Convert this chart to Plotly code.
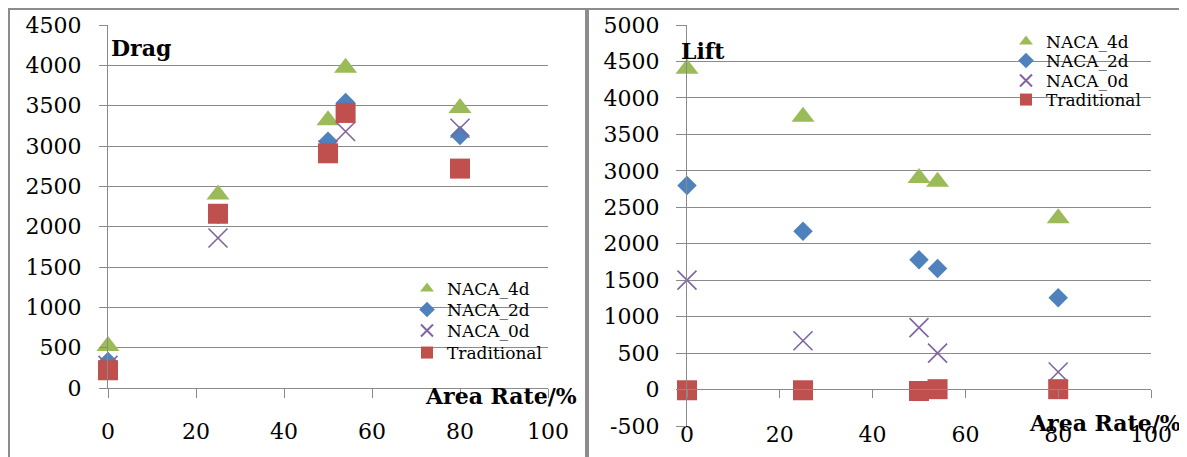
import plotly.graph_objects as go

# The page body has an 8px default margin, so the figure is offset by 8px.
SCREEN_W, SCREEN_H = 1187, 457
OFF = 8
W, H = SCREEN_W - OFF, SCREEN_H - OFF
SERIF = "DejaVu Serif"

# ---------------- data ----------------
area_rate = [0, 25, 50, 54, 80]
series_names = ["NACA_4d", "NACA_2d", "NACA_0d", "Traditional"]

drag_naca4d = [520, 2400, 3320, 3970, 3470]
drag_naca2d = [330, 2150, 3060, 3540, 3130]
drag_naca0d = [280, 1860, 2950, 3180, 3220]
drag_trad = [220, 2160, 2910, 3410, 2720]

lift_naca4d = [4400, 3740, 2900, 2850, 2350]
lift_naca2d = [2800, 2170, 1780, 1660, 1260]
lift_naca0d = [1500, 670, 850, 500, 240]
lift_trad = [-10, -10, -20, 5, 5]

x_ticks = [0, 20, 40, 60, 80, 100]
drag_ticks = list(range(0, 4501, 500))
lift_ticks = list(range(-500, 5001, 500))
lift_tick_labels = [str(v) for v in lift_ticks]  # plain hyphen for "-500"

# ---------------- styles ----------------
colors = {"NACA_4d": "#9BBB59", "NACA_2d": "#4F81BD",
          "NACA_0d": "#8064A2", "Traditional": "#C0504D"}
symbols = {"NACA_4d": "triangle-up", "NACA_2d": "diamond",
           "NACA_0d": "x-thin", "Traditional": "square"}
sizes = {"NACA_4d": 20, "NACA_2d": 15, "NACA_0d": 19, "Traditional": 20}
GRID = "#8a8a8a"


def fx(px):
    return (px - OFF) / W


def fy(py):
    return 1 - (py - OFF) / H


fig = go.Figure()

drag_series = [drag_naca4d, drag_naca2d, drag_naca0d, drag_trad]
lift_series = [lift_naca4d, lift_naca2d, lift_naca0d, lift_trad]

left_rows = [289, 310, 331, 353]
right_rows = [42, 61, 81, 100]

legend_font = dict(family=SERIF, size=17, color="black")
legend_layouts = {}
for i, (name, vals) in enumerate(zip(series_names, drag_series)):
    lid = "legend" if i == 0 else f"legend{i + 1}"
    fig.add_trace(go.Scatter(
        x=area_rate, y=vals, mode="markers", name=name,
        xaxis="x", yaxis="y", legend=lid, cliponaxis=False,
        marker=dict(symbol=symbols[name], size=sizes[name], color=colors[name],
                    line=dict(width=1.6 if name == "NACA_0d" else 0, color=colors[name])),
    ))
    legend_layouts[lid] = dict(x=fx(407), y=fy(left_rows[i]), xanchor="left", yanchor="middle",
                               bgcolor="rgba(0,0,0,0)", borderwidth=0, itemsizing="constant",
                               font=legend_font)

for i, (name, vals) in enumerate(zip(series_names, lift_series)):
    lid = f"legend{i + 5}"
    fig.add_trace(go.Scatter(
        x=area_rate, y=vals, mode="markers", name=name,
        xaxis="x2", yaxis="y2", legend=lid, cliponaxis=False,
        marker=dict(symbol=symbols[name], size=sizes[name], color=colors[name],
                    line=dict(width=1.6 if name == "NACA_0d" else 0, color=colors[name])),
    ))
    legend_layouts[lid] = dict(x=fx(1006), y=fy(right_rows[i]), xanchor="left", yanchor="middle",
                               bgcolor="rgba(0,0,0,0)", borderwidth=0, itemsizing="constant",
                               font=legend_font)

tickfont = dict(family=SERIF, size=22, color="black")

fig.update_layout(
    width=W, height=H,
    margin=dict(l=0, r=0, t=0, b=0, pad=0, autoexpand=False),
    paper_bgcolor="white", plot_bgcolor="white",
    font=dict(family=SERIF, color="black"),
    xaxis=dict(domain=[fx(108), fx(548)], range=[0, 100], tickvals=x_ticks,
               anchor="y", showgrid=False, zeroline=False, showline=True,
               linecolor=GRID, linewidth=1.2, ticks="outside", ticklen=9,
               tickcolor=GRID, tickwidth=1.2, tickfont=tickfont, ticklabelstandoff=14),
    yaxis=dict(domain=[fy(388), fy(25)], range=[0, 4500], tickvals=drag_ticks,
               anchor="x", showgrid=True, gridcolor=GRID, gridwidth=1.2, zeroline=False,
               showline=True, linecolor=GRID, linewidth=1.2, ticks="outside", ticklen=8,
               tickcolor=GRID, tickwidth=1.2, tickfont=tickfont, ticklabelstandoff=13),
    xaxis2=dict(domain=[fx(687), fx(1151)], range=[0, 100], tickvals=x_ticks,
                anchor="y2", showgrid=False, zeroline=False, showline=False,
                ticks="", tickfont=tickfont, ticklabelstandoff=-7),
    xaxis3=dict(range=[0, 100], tickvals=x_ticks, overlaying="x2", anchor="free",
                position=fy(389), showgrid=False, zeroline=False, showline=True,
                linecolor=GRID, linewidth=1.2, ticks="outside", ticklen=8,
                tickcolor=GRID, tickwidth=1.2, showticklabels=False),
    yaxis2=dict(domain=[fy(426), fy(25)], range=[-500, 5000], tickvals=lift_ticks,
                ticktext=lift_tick_labels,
                anchor="x2", showgrid=True, gridcolor=GRID, gridwidth=1.2, zeroline=False,
                showline=True, linecolor=GRID, linewidth=1.2, ticks="outside", ticklen=10,
                tickcolor=GRID, tickwidth=1.2, tickfont=tickfont, ticklabelstandoff=12),
    showlegend=True,
    **legend_layouts,
)

# dummy trace to make xaxis3 render
fig.add_trace(go.Scatter(x=[None], y=[None], xaxis="x3", yaxis="y2", showlegend=False,
                         hoverinfo="skip"))

# panel frames
fig.add_shape(type="rect", xref="paper", yref="paper",
              x0=fx(9), x1=fx(586), y0=-0.1, y1=fy(9),
              line=dict(color="#8c8c8c", width=2), fillcolor="rgba(0,0,0,0)", layer="below")
fig.add_shape(type="rect", xref="paper", yref="paper",
              x0=fx(588), x1=1.1, y0=-0.1, y1=fy(9),
              line=dict(color="#8c8c8c", width=2), fillcolor="rgba(0,0,0,0)", layer="below")

bold = dict(family=SERIF, size=22, color="black")
fig.add_annotation(text="<b>Drag</b>", xref="paper", yref="paper", x=fx(109), y=fy(48),
                   xanchor="left", yanchor="middle", showarrow=False, font=bold)
fig.add_annotation(text="<b>Lift</b>", xref="paper", yref="paper", x=fx(679), y=fy(51),
                   xanchor="left", yanchor="middle", showarrow=False, font=bold)
fig.add_annotation(text="<b>Area Rate/%</b>", xref="paper", yref="paper", x=fx(423), y=fy(396),
                   xanchor="left", yanchor="middle", showarrow=False, font=bold)
fig.add_annotation(text="<b>Area Rate/%</b>", xref="paper", yref="paper", x=fx(1027), y=fy(423),
                   xanchor="left", yanchor="middle", showarrow=False, font=bold)

fig.write_html("out.html")
